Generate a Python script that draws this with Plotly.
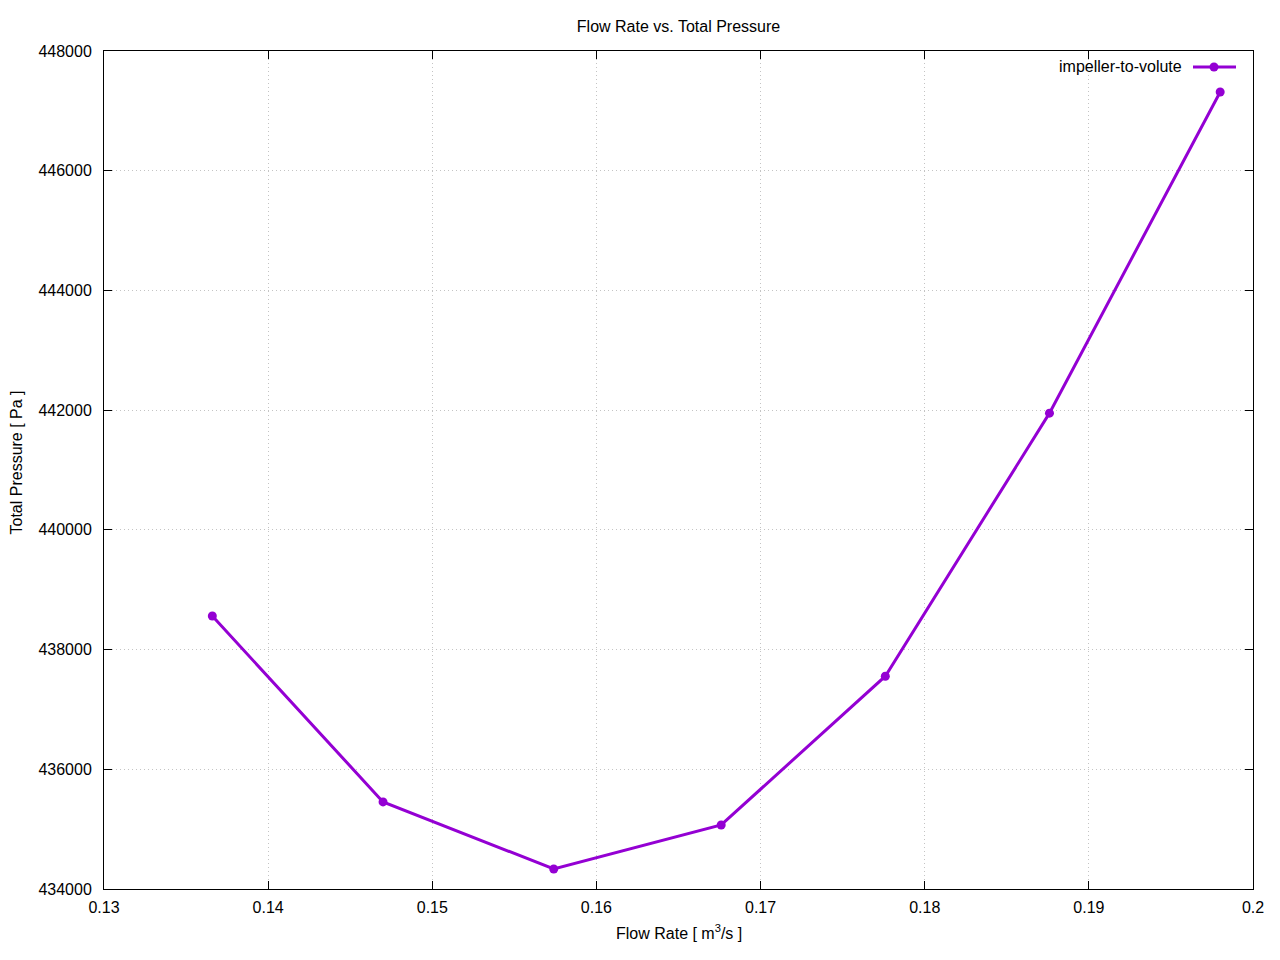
import plotly.graph_objects as go

flow_rate = [0.1366, 0.1470, 0.1574, 0.1676, 0.1776, 0.1876, 0.1980]
total_pressure = [438560, 435455, 434335, 435070, 437555, 441950, 447315]
series_name = "impeller-to-volute"
x_ticks = [0.13, 0.14, 0.15, 0.16, 0.17, 0.18, 0.19, 0.2]
x_tick_labels = ["0.13", "0.14", "0.15", "0.16", "0.17", "0.18", "0.19", "0.2"]
y_ticks = [434000, 436000, 438000, 440000, 442000, 444000, 446000, 448000]

color = "#9400D3"
font = "Liberation Sans, Arial, sans-serif"

W, H = 1264, 944
L, R, T, B = 96, 19, 43, 63
PW, PH = W - L - R, H - T - B

fig = go.Figure()
fig.add_trace(go.Scatter(
    x=flow_rate, y=total_pressure, mode="lines+markers", name=series_name,
    line=dict(color=color, width=3), marker=dict(color=color, size=9),
    showlegend=False,
))

axis_common = dict(
    showline=True, linecolor="black", linewidth=1, mirror="ticks",
    ticks="inside", ticklen=8, tickcolor="black", tickwidth=1,
    showgrid=True, gridcolor="#c4c4c4", griddash="1px,3px", gridwidth=1,
    zeroline=False, automargin=False,
    tickfont=dict(family=font, size=16, color="black"),
)

fig.update_layout(
    width=W, height=H,
    margin=dict(l=L, r=R, t=T, b=B, autoexpand=False),
    paper_bgcolor="white", plot_bgcolor="white",
    font=dict(family=font, size=16, color="black"),
    title=dict(text="Flow Rate vs. Total Pressure", x=(L + PW / 2) / W, xanchor="center",
               y=1 - 18 / H, yanchor="middle", font=dict(size=16)),
    xaxis=dict(range=[0.13, 0.2], tickvals=x_ticks, ticktext=x_tick_labels,
               ticklabelstandoff=4, **axis_common),
    yaxis=dict(range=[434000, 448000], tickvals=y_ticks, tickformat="d",
               ticklabelstandoff=8, **axis_common),
)

# axis titles
fig.add_annotation(xref="paper", yref="paper", x=0.5, y=-(924 - 881) / PH,
                   text="Flow Rate [ m<sup>3</sup>/s ]", showarrow=False,
                   xanchor="center", yanchor="middle",
                   font=dict(size=16, family=font, color="black"))
fig.add_annotation(xref="paper", yref="paper", x=(8 - L) / PW, y=(881 - 454.5) / PH,
                   text="Total Pressure [ Pa ]", showarrow=False, textangle=-90,
                   xanchor="center", yanchor="middle",
                   font=dict(size=16, family=font, color="black"))

# legend (gnuplot style: text left, sample right)
ly = 1 - (67 - 51) / PH
fig.add_annotation(xref="paper", yref="paper", x=(1184 - 104) / PW, y=ly,
                   text=series_name, showarrow=False, xanchor="right", yanchor="middle",
                   font=dict(size=16, family=font, color="black"))
fig.add_shape(type="line", xref="paper", yref="paper",
              x0=(1193 - 104) / PW, x1=(1236 - 104) / PW, y0=ly, y1=ly,
              line=dict(color=color, width=3))
cx = (1214 - 104) / PW
fig.add_shape(type="circle", xref="paper", yref="paper",
              x0=cx - 4.5 / PW, x1=cx + 4.5 / PW, y0=ly - 4.5 / PH, y1=ly + 4.5 / PH,
              fillcolor=color, line=dict(color=color, width=0))

fig.write_html("out.html")
